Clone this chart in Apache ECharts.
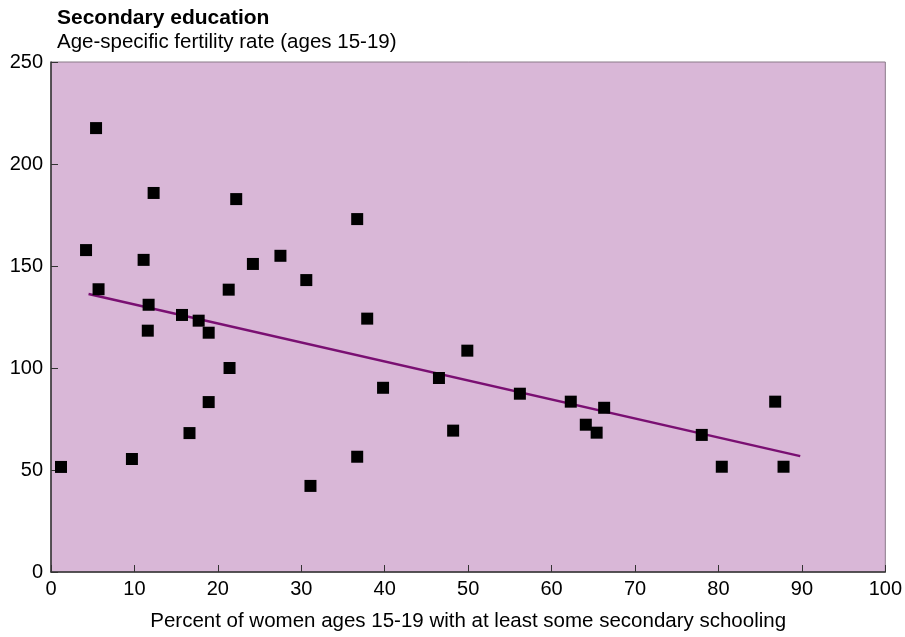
<!DOCTYPE html>
<html>
<head>
<meta charset="utf-8">
<script src="https://cdn.jsdelivr.net/npm/echarts@6/dist/echarts.min.js"></script>
<style>
  html, body { margin: 0; padding: 0; background: #ffffff; }
  #chart { width: 905px; height: 637px; }
</style>
</head>
<body>
<div id="chart"></div>
<script>
// Share of women 15-19 with some secondary schooling (%)
const schooling = [1.2, 5.4, 4.2, 5.7, 11.1, 11.7, 11.6, 12.3, 9.7, 15.7, 17.7, 18.9, 18.9,
  16.6, 21.3, 21.4, 22.2, 24.2, 27.5, 30.6, 31.1, 36.7, 36.7, 37.9, 39.8, 46.5, 48.2,
  49.9, 56.2, 62.3, 64.1, 65.4, 66.3, 78.0, 80.4, 86.8, 87.8];
// Age-specific fertility rate, ages 15-19
const fertility = [51.5, 217.6, 157.8, 138.6, 153, 131, 118.3, 185.8, 55.4, 126, 123.2, 117.3, 83.3,
  68.1, 138.4, 100, 182.8, 151, 155, 143.1, 42.2, 173, 56.5, 124.2, 90.3, 95.1, 69.3,
  108.5, 87.4, 83.5, 72.2, 68.3, 80.5, 67.2, 51.6, 83.5, 51.6];
// Fitted trend line end points
const trendX = [4.5, 89.8];
const trendY = [136.3, 56.8];

const xTicks = { min: 0, max: 100, interval: 10 };
const yTicks = { min: 0, max: 250, interval: 50 };

const chart = echarts.init(document.getElementById('chart'));
const font = 'Liberation Sans, Arial, sans-serif';

chart.setOption({
  animation: false,
  backgroundColor: '#ffffff',
  title: [
    { text: 'Secondary education', left: 52, top: 3,
      textStyle: { fontFamily: font, fontSize: 21, fontWeight: 'bold', color: '#000' } },
    { text: 'Age-specific fertility rate (ages 15-19)', left: 52, top: 27,
      textStyle: { fontFamily: font, fontSize: 20.5, fontWeight: 'normal', color: '#000' } }
  ],
  grid: {
    left: 51, right: 18, top: 62, bottom: 65,
    show: true, backgroundColor: '#d9b7d7', borderColor: '#8a7a88', borderWidth: 1
  },
  xAxis: {
    type: 'value', min: xTicks.min, max: xTicks.max, interval: xTicks.interval,
    name: 'Percent of women ages 15-19 with at least some secondary schooling',
    nameLocation: 'middle', nameGap: 39,
    nameTextStyle: { fontFamily: font, fontSize: 20.5, color: '#000' },
    axisLine: { show: true, lineStyle: { color: '#333', width: 1.5 } },
    axisTick: { show: true, inside: true, length: 7, lineStyle: { color: '#333' } },
    axisLabel: { fontFamily: font, fontSize: 20, color: '#000', margin: 7 },
    splitLine: { show: false }
  },
  yAxis: {
    type: 'value', min: yTicks.min, max: yTicks.max, interval: yTicks.interval,
    axisLine: { show: true, lineStyle: { color: '#333', width: 1.5 } },
    axisTick: { show: true, inside: true, length: 7, lineStyle: { color: '#333' } },
    axisLabel: { fontFamily: font, fontSize: 20, color: '#000', margin: 8 },
    splitLine: { show: false }
  },
  series: [
    {
      type: 'line',
      data: trendX.map((x, i) => [x, trendY[i]]),
      symbol: 'none',
      lineStyle: { color: '#7a0f72', width: 2.5 },
      z: 2
    },
    {
      type: 'scatter',
      data: schooling.map((x, i) => [x, fertility[i]]),
      symbol: 'rect', symbolSize: 12,
      itemStyle: { color: '#000', opacity: 1 },
      z: 3
    }
  ]
});
</script>
</body>
</html>
